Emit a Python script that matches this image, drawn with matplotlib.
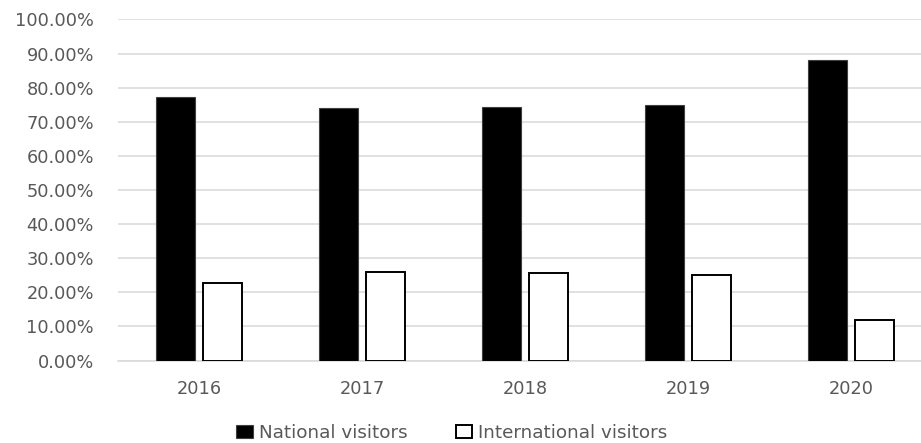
import numpy as np
import matplotlib
matplotlib.use("Agg")
import matplotlib.pyplot as plt
from matplotlib.ticker import FuncFormatter

# Share of visitors by origin, per year
years = ["2016", "2017", "2018", "2019", "2020"]
national = [77.4, 74.0, 74.3, 74.9, 88.0]
international = [22.6, 26.0, 25.7, 25.1, 12.0]

plt.rcParams['font.family'] = ['DejaVu Sans']
text_grey = '#595959'
grid_grey = '#d9d9d9'

fig = plt.figure(figsize=(9.21, 4.43), dpi=100)
# axes runs slightly past the right edge of the figure
ax = fig.add_axes([117.5 / 921, 0.1862, 815 / 921, 0.7698])

x = np.arange(len(years))
width = 0.24
offset = 0.143

ax.bar(x - offset, national, width, color='black', edgecolor='#404040',
       linewidth=0.8, label='National visitors', zorder=3)
ax.bar(x + offset, international, width, color='white', edgecolor='black',
       linewidth=1.4, label='International visitors', zorder=3)

ax.set_xlim(-0.5, len(years) - 0.5)
ax.set_ylim(0, 100)
ax.set_yticks(np.arange(0, 101, 10))
ax.yaxis.set_major_formatter(FuncFormatter(lambda v, p: "%.2f%%" % v))
ax.set_xticks(x)
ax.set_xticklabels(years)

ax.grid(axis='y', color=grid_grey, linewidth=1.1, zorder=0)
for s in ['top', 'right', 'left']:
    ax.spines[s].set_visible(False)
ax.spines['bottom'].set_color(grid_grey)
ax.spines['bottom'].set_linewidth(1.1)
ax.tick_params(axis='both', length=0, labelsize=12.8, colors=text_grey)
ax.tick_params(axis='x', pad=14)
ax.tick_params(axis='y', pad=17)

fig.legend(loc='center', bbox_to_anchor=(452 / 921, 0.023), ncol=2,
           frameon=False, fontsize=13.2, labelcolor=text_grey,
           handlelength=0.9, handleheight=0.75, handletextpad=0.35,
           columnspacing=2.6)

fig.savefig("out.png", dpi=100)
